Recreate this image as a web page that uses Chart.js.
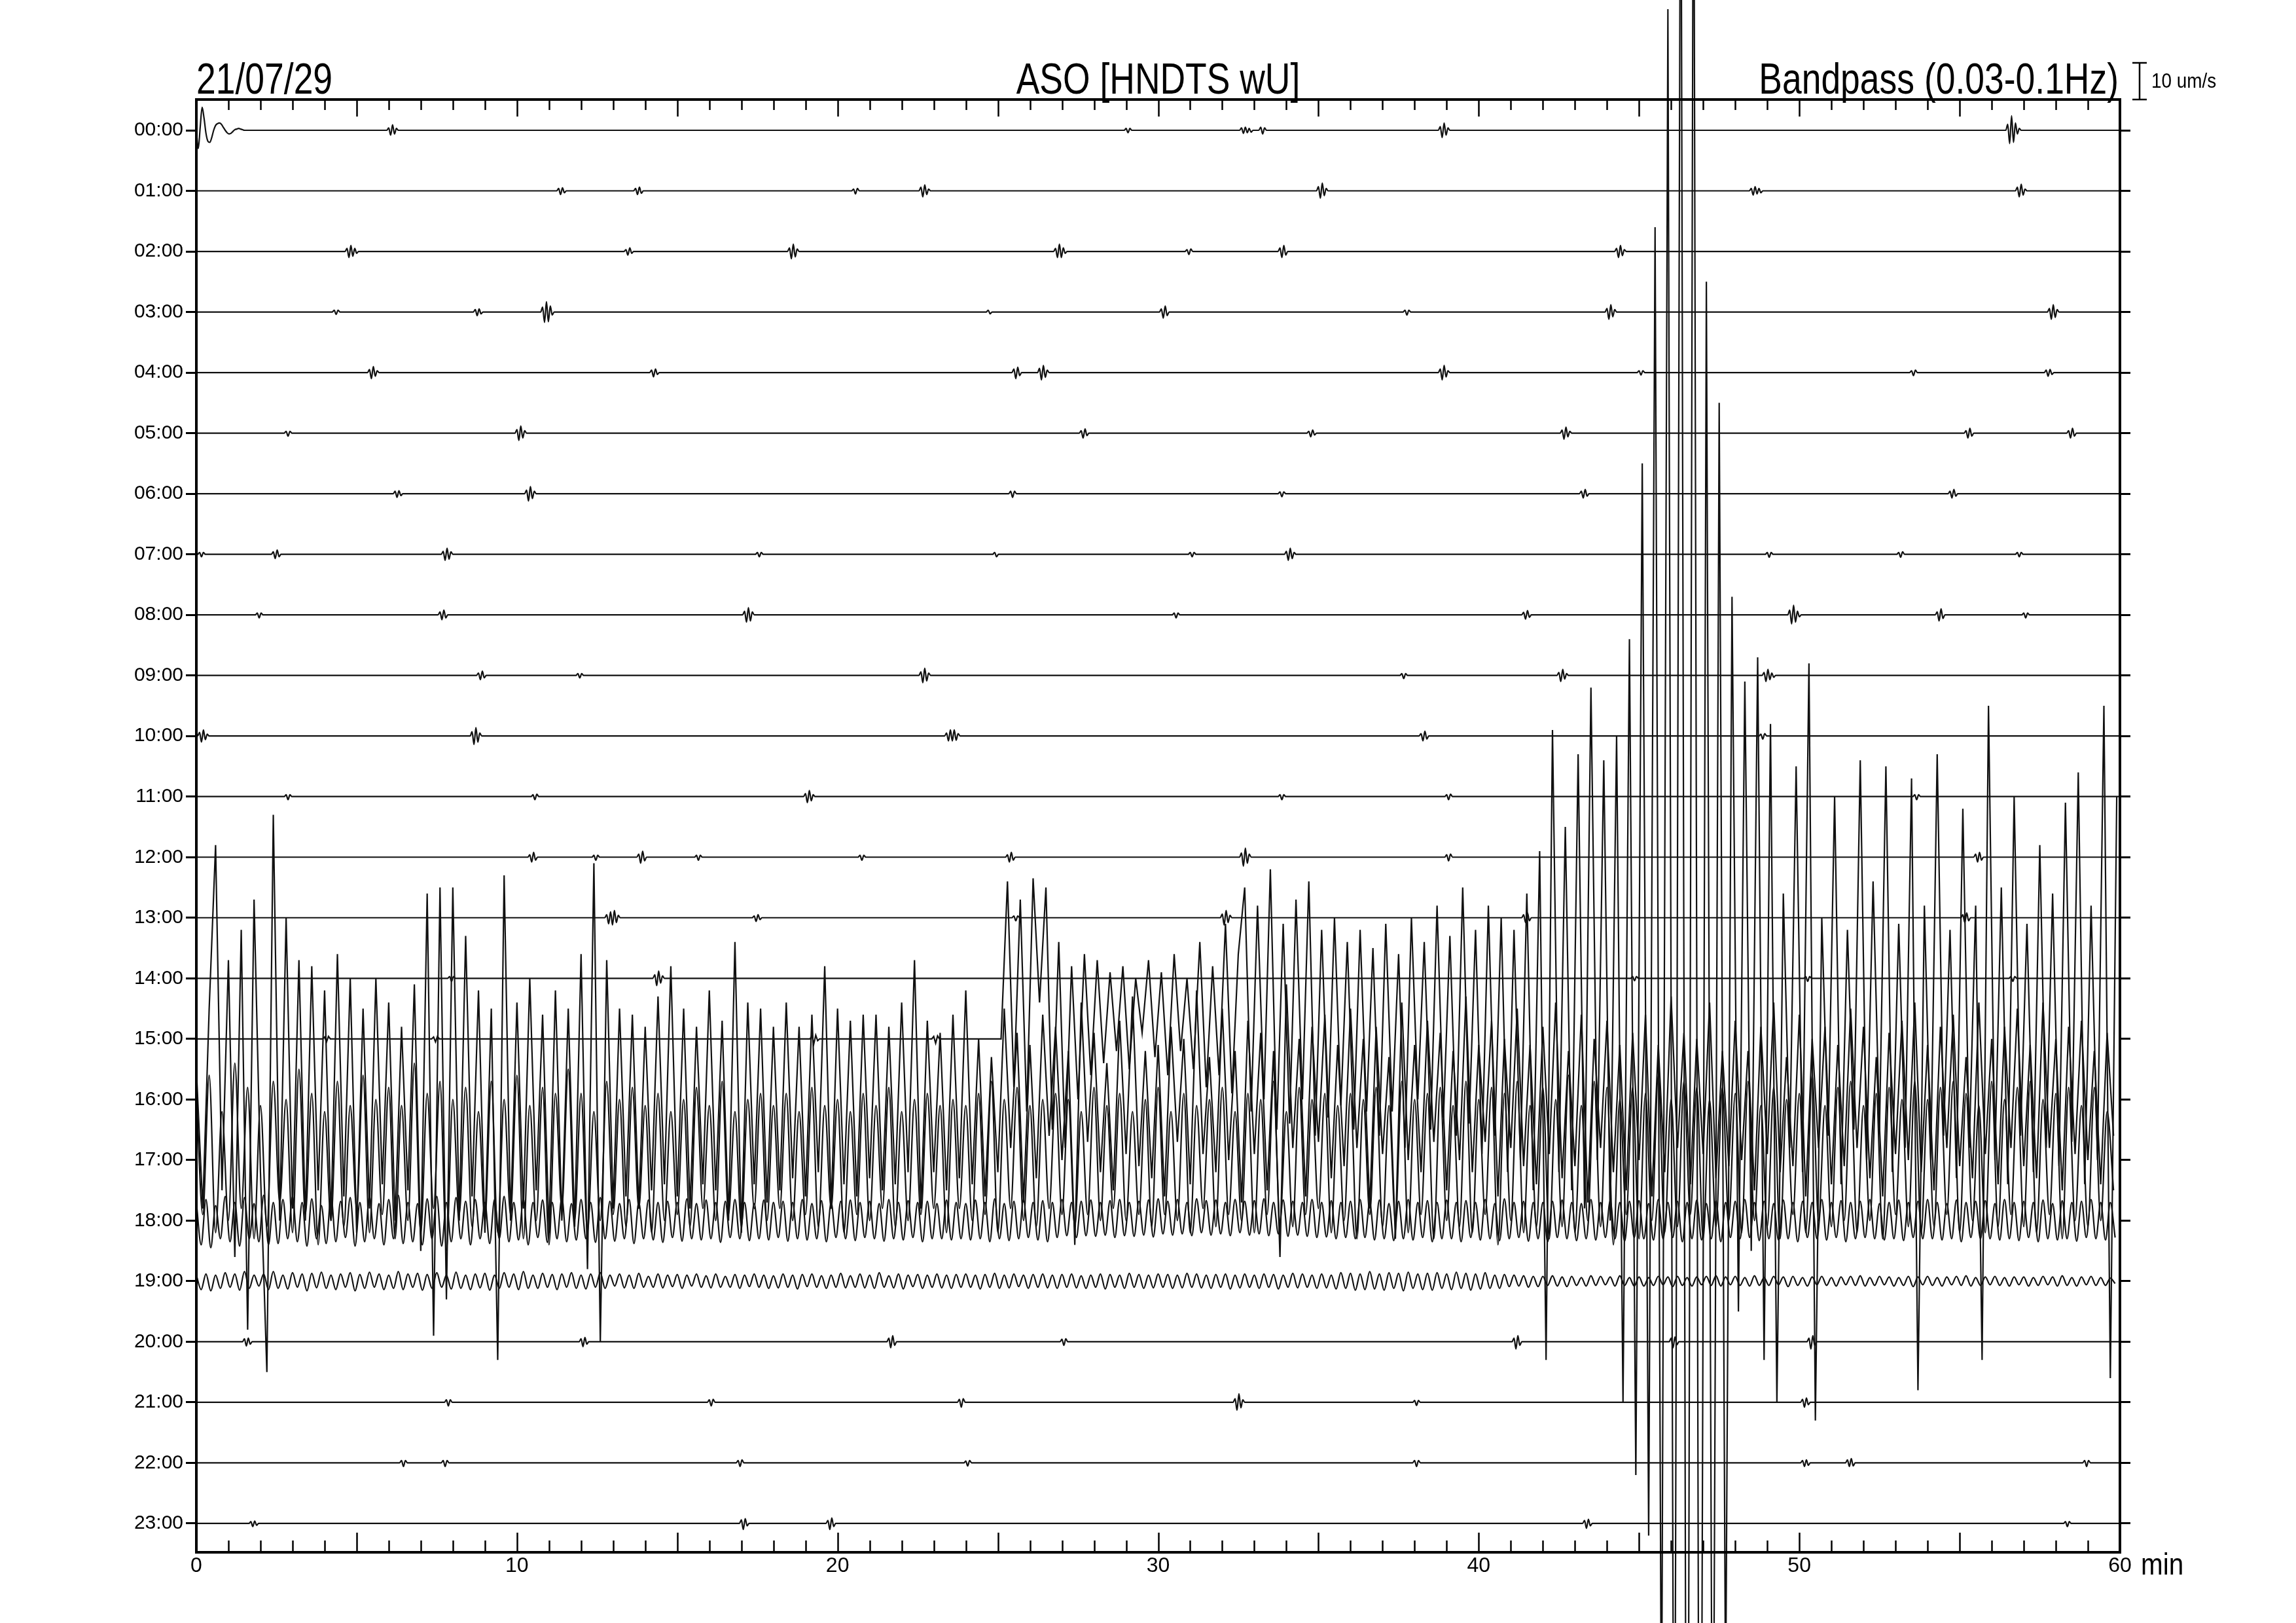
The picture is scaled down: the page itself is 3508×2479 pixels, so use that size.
<!DOCTYPE html>
<html>
<head>
<meta charset="utf-8">
<title>ASO [HNDTS wU] 21/07/29</title>
<script src="https://cdn.jsdelivr.net/npm/chart.js@4.4.1/dist/chart.umd.min.js"></script>
<style>
  html, body { margin: 0; padding: 0; background: #fff; }
  #wrap { width: 3508px; height: 2479px; }
</style>
</head>
<body>
<div id="wrap"><canvas id="heli"></canvas></div>
<script>
const rowLabels = ["00:00", "01:00", "02:00", "03:00", "04:00", "05:00", "06:00", "07:00",
  "08:00", "09:00", "10:00", "11:00", "12:00", "13:00", "14:00", "15:00",
  "16:00", "17:00", "18:00", "19:00", "20:00", "21:00", "22:00", "23:00"];
const minuteTicks = [0, 10, 20, 30, 40, 50, 60];

// wiggles on the quiet hours: [start minute, samples...]
// samples every EV_STEP minutes, in row heights (up is +)
const EV_STEP = 0.06;
const ev00 = [[0.06, -.3, .05, .38, .2, -.05, -.18, -.2, -.12, 0, .08, .11, .12, .1, .05, 0, -.04, -.06, -.05, -.02, .01, .02, .03, .02, .01],
  [6.0, .04, -.08, .09, -.06, .03], [29.0, .03, -.04, .03], [32.6, .04, -.05, .05, -.04, .03, -.03],
  [33.2, .05, -.06, .04], [38.8, .06, -.12, .12, -.08, .04], [56.5, .1, -.22, .24, -.2, .12, -.06, .03]];
const ev01 = [[11.3, .04, -.06, .05, -.03], [13.7, .04, -.06, .06, -.04], [20.5, .03, -.05, .04],
  [22.6, .06, -.1, .1, -.06, .03], [35.0, .07, -.12, .13, -.08, .04], [48.5, .04, -.07, .07, -.05, .04, -.03],
  [56.8, .06, -.1, .11, -.07, .03]];
const ev02 = [[4.7, .05, -.1, .1, -.08, .05, -.03], [13.4, .03, -.06, .06, -.03], [18.5, .06, -.12, .12, -.09, .04],
  [26.8, .05, -.1, .12, -.1, .06, -.03], [30.9, .03, -.05, .04], [33.8, .06, -.1, .1, -.06],
  [44.3, .05, -.1, .1, -.07, .03]];
const ev03 = [[4.3, .03, -.04, .03], [8.7, .04, -.06, .05, -.03], [10.8, .08, -.17, .17, -.16, .1, -.05],
  [24.7, .03, -.03], [30.1, .05, -.1, .1, -.06], [37.7, .03, -.05, .03], [44.0, .06, -.12, .12, -.08, .04],
  [57.8, .06, -.12, .12, -.09, .04]];
const ev04 = [[5.4, .05, -.1, .1, -.06, .03], [14.2, .04, -.07, .06, -.03], [25.5, .06, -.1, .09, -.05],
  [26.3, .07, -.12, .12, -.08, .04], [38.8, .06, -.12, .12, -.07, .03], [45.0, .03, -.04, .03],
  [53.5, .03, -.05, .04], [57.7, .04, -.06, .05, -.03]];
const ev05 = [[2.8, .03, -.05, .03], [10.0, .06, -.12, .12, -.08, .04], [27.6, .04, -.08, .07, -.04],
  [34.7, .03, -.06, .05, -.03], [42.6, .05, -.1, .1, -.06, .03], [55.2, .04, -.08, .08, -.05],
  [58.4, .04, -.08, .08, -.05]];
const ev06 = [[6.2, .04, -.06, .05, -.03], [10.3, .06, -.12, .12, -.08, .04], [25.4, .04, -.06, .04],
  [33.8, .03, -.05, .03], [43.2, .04, -.07, .07, -.04], [54.7, .04, -.07, .07, -.04]];
const ev07 = [[0.1, .03, -.04, .03], [2.4, .04, -.07, .07, -.04], [7.7, .05, -.1, .1, -.08, .04],
  [17.5, .03, -.04, .03], [24.9, .03, -.04], [31.0, .03, -.04, .03], [34.0, .05, -.1, .1, -.07, .03],
  [49.0, .03, -.05, .03], [53.1, .03, -.05, .04], [56.8, .03, -.04, .03]];
const ev08 = [[1.9, .03, -.05, .03], [7.6, .05, -.08, .08, -.05], [17.1, .06, -.12, .12, -.1, .05],
  [30.5, .03, -.05, .03], [41.4, .04, -.07, .07, -.04], [49.7, .08, -.15, .16, -.12, .06, -.03],
  [54.3, .05, -.1, .1, -.06], [57.0, .03, -.05, .03]];
const ev09 = [[8.8, .04, -.07, .07, -.04], [11.9, .03, -.04, .03], [22.6, .06, -.12, .12, -.09, .04],
  [37.6, .03, -.05, .03], [42.5, .05, -.1, .1, -.06, .03], [48.9, .05, -.1, .1, -.07, .04, -.03]];
const ev10 = [[0.1, .06, -.1, .1, -.06, .03], [8.6, .07, -.14, .14, -.1, .05], [23.4, .05, -.08, .1, -.08, .1, -.07, .04],
  [38.2, .04, -.08, .08, -.05], [48.8, .03, -.05, .04]];
const ev11 = [[2.8, .03, -.05, .03], [10.5, .03, -.05, .04], [19.0, .05, -.1, .1, -.07, .03],
  [33.8, .03, -.05, .03], [39.0, .03, -.05, .04], [53.6, .03, -.05, .03]];
const ev12 = [[10.4, .04, -.08, .08, -.05], [12.4, .03, -.05, .03], [13.8, .05, -.1, .1, -.06],
  [15.6, .03, -.05, .03], [20.7, .03, -.05, .03], [25.3, .04, -.08, .08, -.05],
  [32.6, .07, -.15, .15, -.1, .05], [39.0, .04, -.06, .05], [55.5, .05, -.08, .08, -.05]];
const ev13 = [[12.8, .05, -.1, .1, -.12, .12, -.08, .04], [17.4, .03, -.06, .05, -.03], [25.5, .03, -.05, .03],
  [32.0, .06, -.12, .12, -.08, .04], [41.4, .05, -.08, .08, -.05], [55.1, .05, -.08, .08, -.05]];
const ev14 = [[7.9, .03, -.05, .03], [14.3, .06, -.12, .12, -.08, .04], [44.8, .03, -.04, .03],
  [50.2, .03, -.05, .03], [56.6, .03, -.05, .03]];
const ev15 = [[4.0, .03, -.05, .04], [7.4, .03, -.05, .04], [19.2, .05, -.08, .06, -.03], [23.0, .04, -.07, .05]];
const ev20 = [[1.5, .05, -.07, .06, -.04], [12.0, .05, -.08, .07, -.04], [21.6, .06, -.1, .1, -.06],
  [27.0, .04, -.06, .05], [41.1, .06, -.12, .1, -.06], [46.0, .06, -.1, .08, -.05], [50.3, .06, -.12, .1, -.06]];
const ev21 = [[7.8, .04, -.06, .04], [16.0, .04, -.06, .05], [23.8, .05, -.08, .06],
  [32.4, .06, -.13, .14, -.09, .04], [38.0, .03, -.05, .03], [50.1, .05, -.08, .07, -.04]];
const ev22 = [[6.4, .04, -.06, .04], [7.7, .04, -.06, .04], [16.9, .04, -.06, .05], [24.0, .03, -.05, .04],
  [38.0, .04, -.06, .04], [50.1, .04, -.06, .05, -.04], [51.5, .05, -.06, .07, -.05], [58.9, .04, -.06, .04]];
const ev23 = [[1.7, .03, -.05, .04, -.03], [17.0, .06, -.1, .08, -.04], [19.7, .05, -.1, .09, -.05],
  [43.3, .05, -.08, .07, -.04], [58.3, .03, -.05, .03]];

// tremor rows, extremes (row heights, up is +)
const STEP_WIDE = 0.2;   // rows 15-17
const STEP_FINE = 0.15;  // rows 18-19
const tremor15Start = 25.1;
const tremor15 = [
  0, 2.6, -0.8, 2.3, -1.2, 2.65, 0.6, 2.5, -1.5, 1.6, -1.8, 1.2, -1.0, 1.4, -0.6,
  1.3, -0.4, 1.1, -0.2, 1.2, -0.5, 1.0, 0.1, 1.3, -0.3, 1.1, -0.6, 1.4, -0.2, 1.0,
  -0.5, 1.6, -0.8, 1.2, -0.6, 1.9, -0.9, 1.4, 2.5, -1.2, 2.2, -1.0, 2.8, -1.5, 1.9,
  -1.4, 2.3, -1.0, 2.6, -1.6, 1.8, -1.3, 2.0, -1.1, 1.6, -1.5, 1.8, -1.2, 1.5, -1.6,
  1.9, -1.2, 1.4, -1.8, 2.0, -1.0, 1.6, -1.5, 2.2, -1.3, 1.7, -1.6, 2.5, -1.4, 1.8,
  -1.9, 2.2, -1.6, 2.0, -2.2, 1.8, -2.0, 2.4, -2.5, 3.1, -5.3, 5.1, -2.2, 3.5, -2.5,
  4.7, -2.8, 5.8, -2.0, 4.6, -3.0, 5.0, -6.0, 6.6, -7.2, 9.5, -8.2, 13.4, -12, 17,
  -16, 22, -20, 22, -20, 12.5, -15, 10.5, -11, 7.3, -4.5, 5.9, -3.5, 6.3, -5.3,
  5.2, -6.0, 2.4, -1.8, 4.5, -2.2, 6.2, -6.3, 2.0, -1.6, 4.0, -2.4, 1.8, -1.5, 4.6,
  -2.0, 2.6, -1.5, 4.5, -2.2, 1.9, -1.8, 4.3, -5.8, 2.2, -2.0, 4.7, -1.6, 1.8, -2.3,
  3.8, -1.8, 2.2, -5.3, 5.5, -2.0, 2.5, -2.4, 4.0, -1.6, 1.9, -2.2, 3.2, -1.8, 2.4,
  -2.1, 3.9, -1.7, 4.4, -2.4, 2.2, -2.0, 5.5, -5.6, 4.0];
const tremor16 = [
  0.5, -1.8, 1.5, 4.2, -1.5, 2.3, -2.6, 2.8, -3.8, 3.3, -1.2, -4.5, 4.7, -2.0, 3.0,
  -1.8, 2.3, -2.0, 2.2, -1.5, 1.8, -2.0, 2.4, -1.6, 2.0, -2.2, 1.5, -1.8, 2.0, -1.4,
  1.6, -2.0, 1.2, -1.5, 1.9, -2.5, 3.4, -3.9, 3.5, -3.3, 3.5, -2.0, 2.7, -1.6, 1.8,
  -2.2, 1.5, -4.3, 3.7, -2.0, 1.6, -1.8, 2.0, -1.5, 1.4, -2.2, 1.8, -2.0, 1.5, -2.1,
  2.4, -2.8, 3.9, -4.0, 2.3, -1.8, 1.5, -1.6, 1.4, -1.8, 1.2, -1.5, 1.7, -1.4, 2.2,
  -1.6, 1.5, -1.8, 1.2, -1.4, 1.8, -1.5, 1.3, -2.0, 2.6, -2.2, 1.6, -1.4, 1.5, -1.7,
  1.2, -1.5, 1.6, -1.3, 1.2, -1.6, 1.4, -1.2, 2.2, -1.8, 1.5, -1.4, 1.3, -1.6, 1.4,
  -1.3, 1.4, -1.5, 1.2, -1.4, 1.6, -1.2, 2.3, -1.8, 1.3, -1.2, 1.1, -1.5, 1.4, -1.3,
  1.8, -1.4, 1.0, -1.6, 0.7, -1.2, 1.5, -0.8, 1.1, -1.7, 0.9, -1.3, 1.4, -0.6, 1.2,
  -1.0, 0.8, -2.4, 1.6, -0.7, 1.1, -1.2, 0.6, -1.5, 1.3, -0.9, 1.7, -1.1, 0.8, -1.3,
  0.9, -1.6, 1.2, -0.7, 1.0, -1.4, 1.8, -0.9, 0.7, -1.2, 1.5, -1.0, 0.8, -1.7, 1.3,
  -0.9, 1.1, -1.5, 0.8, -2.6, 1.9, -0.8, 1.0, -1.6, 1.2, -0.7, 1.4, -1.3, 0.9, -1.1,
  1.5, -0.8, 1.0, -1.8, 1.2, -0.9, 0.7, -2.3, 1.6, -1.0, 0.9, -1.2, 1.3, -0.7, 1.1,
  -1.5, 0.8, -1.0, 1.7, -1.2, 0.9, -0.7, 1.3, -1.6, 1.0, -0.8, 1.5, -1.1, 0.9, -1.4,
  1.2, -0.9, 1.6, -1.3, 0.8, -1.1, 1.4, -1.7, 1.0, -0.8, 1.3, -1.2, 0.9, -1.5, 1.1,
  -1.0, 1.4, -1.6, 0.9, -1.2, 1.7, -0.8, 1.1, -1.4, 1.0, -0.9, 1.6, -1.3, 0.8, -1.1,
  1.3, -1.0, 0.8, -1.5, 1.2, -0.9, 1.6, -1.2, 0.7, -1.1, 1.4, -1.6, 1.0, -0.8, 1.2,
  -1.4, 0.9, -1.1, 1.5, -0.8, 1.2, -1.3, 0.7, -1.6, 1.1, -0.9, 1.3, -1.0, 1.6, -1.2,
  0.9, -1.5, 1.2, -0.8, 1.4, -1.1, 0.7, -1.3, 1.6, -0.9, 1.0, -1.4, 1.2, -0.8, 1.5,
  -1.1, 0.9, -1.3, 1.6, -0.8, 1.0, -1.5, 1.2, -0.9, 1.3, -1.0, 0.8, -1.4, 1.1, -0.6];
const tremor17 = [
  1.1, -0.9, 1.4, -1.2, 0.8, -1.0, 1.6, -0.8, 1.2, -1.3, 0.9, -1.1, 1.3, -0.7, 1.0,
  -1.2, 1.5, -0.9, 1.1, -1.4, 0.8, -1.0, 1.3, -1.1, 0.9, -0.8, 1.4, -1.2, 1.0, -0.9,
  1.2, -1.3, 0.9, -1.0, 1.6, -1.2, 1.1, -0.8, 1.3, -1.5, 1.0, -0.9, 1.2, -1.1, 0.8,
  -1.0, 1.3, -1.2, 1.0, -0.9, 1.4, -1.3, 0.9, -1.0, 1.2, -1.4, 1.1, -0.8, 1.5, -1.0,
  1.1, -1.2, 0.8, -1.0, 1.3, -0.9, 1.0, -1.1, 1.2, -0.8, 0.9, -1.2, 1.1, -1.0, 0.8,
  -0.9, 1.0, -1.1, 1.2, -0.8, 0.9, -1.0, 1.3, -0.9, 0.8, -1.1, 1.0, -0.8, 1.1, -1.0,
  0.9, -0.8, 1.1, -1.0, 0.8, -0.9, 1.2, -1.1, 0.9, -0.8, 1.0, -1.2, 0.8, -0.9, 1.1,
  -1.0, 0.9, -0.8, 1.2, -1.1, 0.8, -1.0, 1.0, -0.9, 1.1, -0.8, 0.9, -1.2, 1.0, -0.8,
  0.9, -1.0, 1.1, -0.9, 1.3, -1.2, 1.0, -0.8, 1.2, -1.0, 0.9, -1.1, 1.0, -0.8, 1.1,
  -0.9, 1.0, -1.1, 0.8, -0.9, 1.2, -1.0, 0.9, -0.8, 1.1, -1.0, 0.8, -0.9, 1.0, -1.1,
  1.2, -0.9, 0.8, -1.0, 1.1, -1.2, 0.9, -0.8, 1.0, -1.1, 1.2, -0.9, 0.8, -1.0, 1.1,
  -1.2, 1.0, -0.9, 1.3, -1.0, 0.8, -1.1, 1.2, -0.9, 1.0, -0.8, 1.1, -1.2, 0.9, -1.0,
  1.1, -1.3, 1.0, -0.9, 1.2, -1.1, 0.9, -1.0, 1.3, -1.2, 1.0, -0.9, 1.1, -1.3, 1.2,
  -1.0, 0.9, -1.1, 1.3, -1.2, 1.0, -0.9, 1.2, -1.4, 1.1, -1.0, 1.3, -1.2, 0.9, -1.1,
  1.2, -1.3, 1.0, -1.1, 1.4, -1.2, 0.9, -1.0, 1.3, -1.1, 1.2, -1.4, 1.0, -0.9, 1.2,
  -1.3, 1.1, -1.0, 1.4, -1.2, 1.0, -1.1, 1.3, -0.9, 1.2, -1.3, 1.0, -1.1, 1.2, -1.0,
  1.1, -1.2, 1.3, -1.0, 0.9, -1.1, 1.2, -1.3, 1.0, -0.9, 1.1, -1.2, 1.4, -1.0, 0.9,
  -1.1, 1.2, -1.0, 1.3, -1.2, 0.9, -1.0, 1.1, -1.3, 1.2, -0.9, 1.0, -1.1, 1.3, -1.2,
  1.0, -1.1, 1.2, -0.9, 1.3, -1.2, 1.1, -1.0, 0.9, -1.2, 1.3, -1.1, 1.0, -0.9, 1.2,
  -1.1, 1.3, -1.2, 1.0, -0.9, 1.1, -1.3, 1.2, -1.0, 0.9, -1.1, 1.2, -1.0, 0.8, -0.5];
const tremor18 = [
  .3, -.4, .35, -.45, .25, -.3, .4, -.35, .3, -.42, .38, -.3, .28, -.35, .42, -.4, .3, -.38, .35, -.3,
  .4, -.35, .3, -.42, .36, -.3, .25, -.38, .4, -.35, .32, -.28, .38, -.42, .3, -.35, .4, -.3, .28, -.4,
  .35, -.3, .42, -.38, .3, -.35, .28, -.4, .36, -.3, .4, -.42, .3, -.35, .38, -.3, .32, -.4, .35, -.3,
  .3, -.38, .35, -.3, .4, -.35, .3, -.32, .36, -.4, .3, -.28, .34, -.36, .3, -.3, .38, -.35, .28, -.32,
  .35, -.3, .3, -.36, .38, -.3, .32, -.34, .28, -.3, .35, -.38, .3, -.3, .34, -.32, .3, -.36, .32, -.28,
  .3, -.34, .36, -.3, .28, -.32, .34, -.3, .3, -.36, .32, -.28, .35, -.3, .3, -.33, .28, -.3, .34, -.32,
  .3, -.28, .32, -.34, .3, -.3, .35, -.32, .28, -.3, .33, -.35, .3, -.28, .32, -.3, .34, -.33, .3, -.28,
  .32, -.3, .28, -.34, .35, -.3, .3, -.32, .33, -.28, .3, -.35, .32, -.3, .28, -.3, .34, -.32, .3, -.3,
  .28, -.32, .34, -.3, .3, -.35, .36, -.3, .28, -.33, .32, -.3, .35, -.28, .3, -.32, .33, -.35, .3, -.28,
  .35, -.25, .3, -.28, .32, -.25, .34, -.26, .3, -.24, .33, -.28, .35, -.25, .3, -.26, .32, -.24, .34, -.27,
  .36, -.22, .32, -.24, .35, -.22, .3, -.25, .36, -.2, .33, -.24, .34, -.22, .3, -.25, .35, -.2, .32, -.24,
  .33, -.22, .36, -.25, .3, -.22, .34, -.26, .32, -.24, .3, -.26, .35, -.28, .3, -.27, .33, -.3, .3, -.28,
  .32, -.3, .35, -.28, .3, -.32, .34, -.3, .28, -.33, .32, -.3, .35, -.32, .3, -.28, .33, -.35, .3, -.3,
  .34, -.3, .3, -.35, .33, -.28, .3, -.32, .35, -.3, .28, -.33, .36, -.3, .3, -.28, .32, -.34, .3, -.3,
  .3, -.35, .32, -.28, .34, -.3, .3, -.33, .28, -.3, .35, -.32, .3, -.28, .33, -.3, .3, -.34, .32, -.28,
  .33, -.3, .28, -.32, .35, -.3, .3, -.28, .32, -.35, .3, -.3, .34, -.32, .28, -.3, .33, -.35, .3, -.28,
  .32, -.3, .35, -.28, .3, -.33, .32, -.3, .28, -.32, .34, -.3, .3, -.35, .32, -.28, .3, -.3, .35, -.32,
  .3, -.28, .33, -.35, .3, -.3, .32, -.28, .35, -.3, .28, -.32, .3, -.3, .34, -.33, .3, -.28, .32, -.3,
  .35, -.3, .3, -.32, .28, -.3, .34, -.35, .3, -.28, .32, -.3, .33, -.3, .28, -.32, .35, -.3, .3, -.33,
  .32, -.28, .3, -.35, .34, -.3, .28, -.32, .33, -.3, .3, -.34, .32, -.28, .35, -.3, .3, -.32, .3, -.28];
const tremor19 = [
  .1, -.14, .12, -.16, .1, -.12, .14, -.1, .12, -.15, .16, -.12, .1, -.08, .12, -.14, .16, -.12, .1, -.13,
  .14, -.1, .12, -.16, .13, -.11, .15, -.12, .1, -.14, .12, -.1, .14, -.16, .11, -.12, .15, -.1, .12, -.14,
  .1, -.12, .16, -.14, .12, -.1, .13, -.15, .11, -.12, .14, -.1, .1, -.13, .15, -.12, .1, -.14, .12, -.11,
  .13, -.15, .1, -.12, .14, -.1, .12, -.14, .16, -.12, .1, -.12, .13, -.1, .11, -.14, .12, -.1, .14, -.12,
  .1, -.13, .12, -.1, .14, -.12, .1, -.08, .12, -.11, .1, -.12, .13, -.1, .08, -.1, .12, -.11, .1, -.09,
  .11, -.12, .1, -.08, .12, -.1, .09, -.11, .12, -.1, .08, -.1, .11, -.12, .1, -.09, .12, -.1, .1, -.12,
  .09, -.11, .12, -.1, .1, -.13, .11, -.09, .12, -.1, .09, -.12, .1, -.1, .13, -.11, .09, -.1, .12, -.11,
  .1, -.12, .14, -.1, .09, -.11, .12, -.13, .1, -.09, .11, -.12, .1, -.1, .12, -.11, .1, -.12, .11, -.1,
  .12, -.1, .1, -.13, .11, -.1, .13, -.12, .1, -.11, .12, -.09, .1, -.12, .11, -.1, .12, -.11, .1, -.12,
  .11, -.1, .12, -.11, .09, -.12, .1, -.1, .12, -.13, .11, -.1, .1, -.12, .13, -.1, .11, -.12, .1, -.11,
  .12, -.1, .11, -.12, .1, -.11, .13, -.1, .12, -.11, .1, -.12, .11, -.1, .12, -.13, .1, -.11, .12, -.1,
  .1, -.12, .12, -.1, .11, -.13, .1, -.1, .13, -.11, .12, -.1, .1, -.12, .12, -.11, .1, -.13, .14, -.12,
  .13, -.15, .12, -.14, .16, -.13, .12, -.15, .14, -.12, .13, -.16, .15, -.12, .12, -.14, .13, -.15, .14, -.12,
  .12, -.14, .15, -.12, .13, -.15, .12, -.13, .14, -.12, .1, -.12, .11, -.09, .1, -.08, .09, -.1, .08, -.09,
  .08, -.07, .09, -.08, .07, -.09, .08, -.07, .06, -.08, .09, -.07, .08, -.06, .07, -.08, .09, -.07, .06, -.08,
  .07, -.08, .06, -.07, .08, -.06, .07, -.09, .08, -.07, .06, -.08, .07, -.06, .08, -.07, .09, -.08, .07, -.06,
  .08, -.07, .06, -.08, .09, -.07, .06, -.07, .08, -.06, .07, -.09, .08, -.07, .06, -.08, .07, -.06, .08, -.07,
  .06, -.08, .07, -.06, .08, -.07, .09, -.08, .06, -.07, .08, -.06, .07, -.08, .06, -.07, .08, -.09, .07, -.06,
  .08, -.07, .06, -.08, .07, -.06, .08, -.07, .09, -.08, .06, -.07, .07, -.06, .08, -.07, .06, -.08, .07, -.06,
  .07, -.08, .06, -.07, .08, -.06, .07, -.08, .09, -.07, .06, -.08, .07, -.06, .08, -.07, .06, -.07, .05, -.04];

const eventRows = [ev00, ev01, ev02, ev03, ev04, ev05, ev06, ev07, ev08, ev09, ev10, ev11,
  ev12, ev13, ev14, ev15, [], [], [], [], ev20, ev21, ev22, ev23];
const tremorRows = {
  15: [tremor15, tremor15Start, STEP_WIDE],
  16: [tremor16, 0, STEP_WIDE],
  17: [tremor17, 0, STEP_WIDE],
  18: [tremor18, 0, STEP_FINE],
  19: [tremor19, 0, STEP_FINE],
};
// rows whose bursts are spiky rather than rounded
const spikyRows = [15, 16];

// one trace per hour, offset down by its row number
function traceFor(row) {
  const pts = [];
  eventRows[row].forEach((ev) => {
    const t0 = ev[0];
    const vals = ev.slice(1);
    pts.push({ x: t0 - EV_STEP, y: row });
    vals.forEach((v, k) => pts.push({ x: t0 + k * EV_STEP, y: row - v }));
    pts.push({ x: t0 + vals.length * EV_STEP, y: row });
  });
  const tr = tremorRows[row];
  if (tr) {
    const [vals, start, step] = tr;
    vals.forEach((v, k) => pts.push({ x: start + k * step, y: row - v }));
  } else {
    pts.push({ x: 60, y: row });
  }
  if (pts[0].x > 0) pts.unshift({ x: 0, y: row });
  return pts;
}

const datasets = rowLabels.map((lab, row) => {
  const spiky = spikyRows.includes(row);
  return {
    label: lab,
    data: traceFor(row),
    borderColor: "#111",
    borderWidth: 2.2,
    pointRadius: 0,
    fill: false,
    cubicInterpolationMode: spiky ? "default" : "monotone",
    tension: 0,
    clip: false,
  };
});

const FONT = "'Liberation Sans', Arial, Helvetica, sans-serif";

function squeezedText(ctx, text, x, y, align, size, sx) {
  ctx.save();
  ctx.translate(x, y);
  ctx.scale(sx, 1);
  ctx.font = size + "px " + FONT;
  ctx.textAlign = align;
  ctx.textBaseline = "alphabetic";
  ctx.fillText(text, 0, 0);
  ctx.restore();
}

const frameAndText = {
  id: "frameAndText",
  afterDraw(chart) {
    const { ctx, chartArea: a, scales } = chart;
    ctx.save();
    ctx.strokeStyle = "#000";
    ctx.lineWidth = 4;
    ctx.strokeRect(a.left, a.top, a.right - a.left, a.bottom - a.top);

    // minute ticks on the inside of top and bottom edges
    ctx.lineWidth = 2.5;
    ctx.beginPath();
    for (let m = 1; m < 60; m++) {
      const px = Math.round(scales.x.getPixelForValue(m)) + 0.5;
      const big = m % 5 === 0;
      ctx.moveTo(px, a.top);
      ctx.lineTo(px, a.top + (big ? 26 : 16));
      ctx.moveTo(px, a.bottom);
      ctx.lineTo(px, a.bottom - (big ? 30 : 18));
    }
    ctx.stroke();

    ctx.fillStyle = "#000";
    squeezedText(ctx, "21/07/29", a.left, 143, "left", 66, 0.81);
    squeezedText(ctx, "ASO [HNDTS wU]", (a.left + a.right) / 2, 143, "center", 66, 0.81);
    squeezedText(ctx, "Bandpass (0.03-0.1Hz)", a.right - 2, 143, "right", 66, 0.81);

    // amplitude scale bar
    ctx.lineWidth = 2.5;
    ctx.beginPath();
    ctx.moveTo(3269, 96); ctx.lineTo(3269, a.top);
    ctx.moveTo(3258, 96); ctx.lineTo(3280, 96);
    ctx.moveTo(3258, a.top); ctx.lineTo(3280, a.top);
    ctx.stroke();
    squeezedText(ctx, "10 um/s", 3287, 134, "left", 31, 0.9);

    squeezedText(ctx, "min", 3271, 2405, "left", 46, 0.88);
    ctx.restore();
  },
};

const rowAxis = (pos, showLabels, width) => ({
  type: "linear",
  position: pos,
  reverse: true,
  min: -0.508,
  max: 23.476,
  afterBuildTicks: (s) => { s.ticks = rowLabels.map((_, i) => ({ value: i })); },
  afterFit: (s) => { s.width = width; },
  ticks: {
    display: showLabels,
    callback: (v, i) => rowLabels[i],
    font: { size: 30, family: FONT },
    color: "#000",
    padding: 4,
  },
  grid: { drawOnChartArea: false, drawTicks: true, tickLength: 16, tickWidth: 3, tickColor: "#000" },
  border: { display: true, color: "#000", width: 4 },
});

new Chart(document.getElementById("heli"), {
  type: "line",
  data: { datasets: datasets },
  options: {
    responsive: true,
    maintainAspectRatio: false,
    devicePixelRatio: 1,
    animation: false,
    events: [],
    layout: { padding: { top: 152, left: 0, right: 0, bottom: 0 } },
    plugins: { legend: { display: false }, tooltip: { enabled: false } },
    scales: {
      x: {
        type: "linear",
        min: 0,
        max: 60,
        afterBuildTicks: (s) => { s.ticks = minuteTicks.map((v) => ({ value: v })); },
        afterFit: (s) => { s.height = 108; },
        ticks: { font: { size: 32, family: FONT }, color: "#000", padding: 2, maxRotation: 0 },
        grid: { display: false, drawTicks: false },
        border: { display: true, color: "#000", width: 4 },
      },
      y: rowAxis("left", true, 300),
      y2: rowAxis("right", false, 269),
    },
  },
  plugins: [frameAndText],
});
</script>
</body>
</html>
